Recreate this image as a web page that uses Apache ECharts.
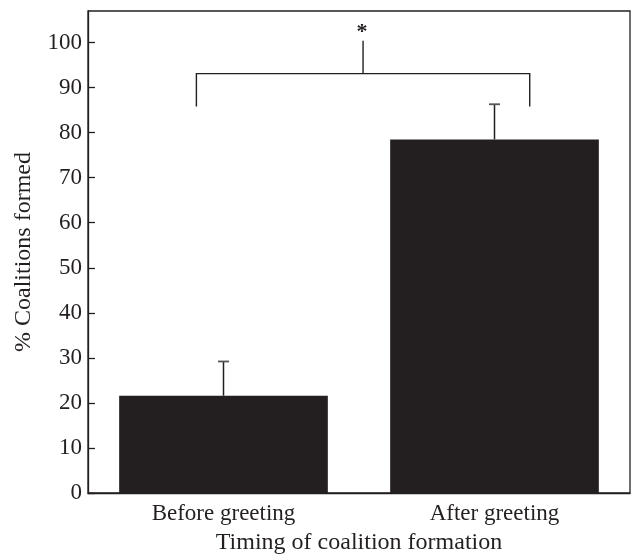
<!DOCTYPE html>
<html>
<head>
<meta charset="utf-8">
<script src="https://cdn.jsdelivr.net/npm/echarts@6/dist/echarts.min.js"></script>
<style>html,body{margin:0;padding:0;background:#fff}#c{width:636px;height:560px}</style>
</head>
<body>
<div id="c"></div>
<script>
// ---- data ----
const categories = ['Before greeting', 'After greeting'];
const values = [21.6, 78.5];
const errorUpper = [29.2, 86.3];
const yTicks = [0, 10, 20, 30, 40, 50, 60, 70, 80, 90, 100];
const sigBracket = [[0, 1, 85.8, 93.1, 100.4]]; // from, to, leg bottom, bar height, stem top
const sigLabel = ['*'];
const yTitle = '% Coalitions formed';
const xTitle = 'Timing of coalition formation';

const ink = '#231f20';
const font = 'Liberation Serif';

const chart = echarts.init(document.getElementById('c'));
chart.setOption({
  animation: false,
  grid: { left: 88, right: 6, top: 11, bottom: 62, show: true, borderColor: ink, borderWidth: 1.3, containLabel: false },
  xAxis: {
    type: 'category',
    data: categories,
    boundaryGap: true,
    axisLine: { lineStyle: { color: ink, width: 1.3 } },
    axisTick: { inside: true, length: 7, lineStyle: { color: ink, width: 1.3 } },
    axisLabel: { color: ink, fontFamily: font, fontSize: 23, margin: 9 },
    name: xTitle,
    nameLocation: 'middle',
    nameGap: 38,
    nameTextStyle: { color: ink, fontFamily: font, fontSize: 24 }
  },
  yAxis: {
    type: 'value',
    min: 0, max: 107, interval: 10,
    splitLine: { show: false },
    axisLine: { show: true, lineStyle: { color: ink, width: 1.3 } },
    axisTick: { show: true, inside: true, length: 7, lineStyle: { color: ink, width: 1.3 }, customValues: yTicks },
    axisLabel: { color: ink, fontFamily: font, fontSize: 23, margin: 6, customValues: yTicks,
      formatter: v => (yTicks.indexOf(v) >= 0 ? String(v) : '') },
    name: yTitle,
    nameLocation: 'middle',
    nameGap: 52,
    nameRotate: 90,
    nameTextStyle: { color: ink, fontFamily: font, fontSize: 24 }
  },
  series: [
    {
      type: 'bar',
      data: values,
      barWidth: '77%',
      itemStyle: { color: ink },
      z: 2
    },
    {
      type: 'custom',
      z: 3,
      data: categories.map((c, i) => [i, values[i], errorUpper[i]]),
      renderItem: function (params, api) {
        const lo = api.coord([api.value(0), api.value(1)]);
        const hi = api.coord([api.value(0), api.value(2)]);
        const hw = 5.5;
        return {
          type: 'group',
          children: [
            { type: 'line', shape: { x1: lo[0], y1: lo[1], x2: hi[0], y2: hi[1] }, style: { stroke: ink, lineWidth: 1.5 } },
            { type: 'line', shape: { x1: hi[0] - hw, y1: hi[1], x2: hi[0] + hw, y2: hi[1] }, style: { stroke: '#555', lineWidth: 1.8 } }
          ]
        };
      }
    },
    {
      type: 'custom',
      z: 3,
      data: sigBracket,
      renderItem: function (params, api) {
        const bw = api.size([1, 0])[0];
        const a = api.coord([api.value(0), api.value(3)]);
        const b = api.coord([api.value(1), api.value(3)]);
        const legY = api.coord([api.value(0), api.value(2)])[1];
        const topY = api.coord([api.value(0), api.value(4)])[1];
        const x1 = a[0] - 0.1 * bw;
        const x2 = b[0] + 0.13 * bw;
        const xm = (a[0] + b[0]) / 2 + 0.015 * bw;
        const st = { stroke: ink, lineWidth: 1.4, fill: null };
        return {
          type: 'group',
          children: [
            { type: 'polyline', shape: { points: [[x1, legY], [x1, a[1]], [x2, a[1]], [x2, legY]] }, style: st },
            { type: 'line', shape: { x1: xm, y1: a[1], x2: xm, y2: topY }, style: st },
            { type: 'text', x: xm - 1, y: topY + 3, style: { text: sigLabel[params.dataIndex], fill: ink, font: 'bold 22px ' + font, align: 'center', verticalAlign: 'bottom' } }
          ]
        };
      }
    }
  ]
});
</script>
</body>
</html>
